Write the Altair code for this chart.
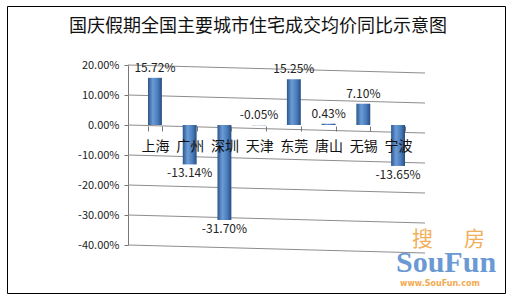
import altair as alt
import pandas as pd

TITLE = "国庆假期全国主要城市住宅成交均价同比示意图"
cities = ["上海", "广州", "深圳", "天津", "东莞", "唐山", "无锡", "宁波"]
values = [0.1572, -0.1314, -0.3170, -0.0005, 0.1525, 0.0043, 0.0710, -0.1365]
grid_values = [-0.4, -0.3, -0.2, -0.1, 0.0, 0.1, 0.2]

df = pd.DataFrame({"city": cities, "value": values})
grid = pd.DataFrame({"g": grid_values})

FONT = "Noto Sans CJK SC"
MINUS_FIX = "replace(format(datum.value, '.2%'), '\u2212', '-')"

xscale = alt.Scale(domain=cities, range=[130.6, 408.4], paddingInner=0.6, paddingOuter=0.3)
yscale = alt.Scale(domain=[-0.4, 0.2], range=[239, 59], nice=False, zero=False)

yaxis = alt.Axis(title=None, orient="left", offset=-121, values=grid_values,
                 format=".2%", labelExpr="replace(datum.label, '\u2212', '-')",
                 grid=False, labelFont=FONT, labelFontSize=11,
                 labelColor="#222", domainColor="#777", tickColor="#777",
                 tickSize=4, labelPadding=5)

gridlines = alt.Chart(grid).mark_rule(color="#8c8c8c", strokeWidth=1, y2Offset=8).encode(
    y=alt.Y("g:Q", scale=yscale, axis=yaxis),
    y2="g:Q",
    x=alt.value(121),
    x2=alt.value(418),
)

cyl = alt.Gradient(
    gradient="linear",
    stops=[
        alt.GradientStop(color="#2c568c", offset=0),
        alt.GradientStop(color="#6c9cd6", offset=0.35),
        alt.GradientStop(color="#4a7cbc", offset=0.7),
        alt.GradientStop(color="#274d80", offset=1),
    ],
    x1=0, x2=1, y1=0, y2=0,
)

bars = alt.Chart(df).mark_bar(color=cyl).encode(
    x=alt.X("city:N", scale=xscale, sort=cities,
            axis=alt.Axis(title=None, orient="bottom", offset=-167, labelAngle=0,
                          labelFont=FONT, labelFontSize=14, labelColor="#111",
                          domain=False, ticks=True, tickBand="extent", tickSize=5,
                          tickColor="#777", labelPadding=8, zindex=1)),
    y=alt.Y("value:Q", scale=yscale, axis=yaxis),
    y2=alt.datum(0),
)

lab_pos = alt.Chart(df).transform_filter("datum.value >= -0.001").transform_calculate(
    label=MINUS_FIX
).mark_text(
    baseline="bottom", dy=-3, font=FONT, fontSize=12, color="#222"
).encode(
    x=alt.X("city:N", scale=xscale, sort=cities),
    y=alt.Y("value:Q", scale=yscale),
    text="label:N",
)

lab_neg = alt.Chart(df).transform_filter("datum.value < -0.001").transform_calculate(
    label=MINUS_FIX
).mark_text(
    baseline="top", dy=4, font=FONT, fontSize=12, color="#222"
).encode(
    x=alt.X("city:N", scale=xscale, sort=cities),
    y=alt.Y("value:Q", scale=yscale),
    text="label:N",
)

title = alt.Chart(pd.DataFrame({"t": [TITLE]})).mark_text(
    font=FONT, fontSize=18, color="#111", baseline="middle", align="center"
).encode(x=alt.value(251), y=alt.value(21), text="t:N")

wm1a = alt.Chart(pd.DataFrame({"t": ["搜"]})).mark_text(
    font=FONT, fontSize=21, color="#f2a23c", align="left", baseline="middle", opacity=0.85
).encode(x=alt.value(405), y=alt.value(234), text="t:N")

wm1b = alt.Chart(pd.DataFrame({"t": ["房"]})).mark_text(
    font=FONT, fontSize=21, color="#f2a23c", align="left", baseline="middle", opacity=0.85
).encode(x=alt.value(457), y=alt.value(234), text="t:N")

wm2 = alt.Chart(pd.DataFrame({"t": ["SouFun"]})).mark_text(
    font="Liberation Serif", fontSize=30, fontWeight="bold", color="#5b8fd0", align="left",
    baseline="middle", opacity=0.9
).encode(x=alt.value(389), y=alt.value(257), text="t:N")

wm3 = alt.Chart(pd.DataFrame({"t": ["www.SouFun.com"]})).mark_text(
    font="DejaVu Sans", fontSize=8, fontWeight="bold", color="#f2a23c", align="left",
    baseline="middle", opacity=0.9
).encode(x=alt.value(393), y=alt.value(278), text="t:N")

chart = alt.layer(gridlines, bars, lab_pos, lab_neg, title, wm1a, wm1b, wm2, wm3).properties(
    width=498, height=287,
    autosize=alt.AutoSizeParams(type="none"),
    padding={"left": 7, "top": 6, "right": 7, "bottom": 7},
    background="white",
).configure_view(stroke="#000", strokeWidth=1)

chart.save("out.html", embed_options={"renderer": "svg", "actions": False})
